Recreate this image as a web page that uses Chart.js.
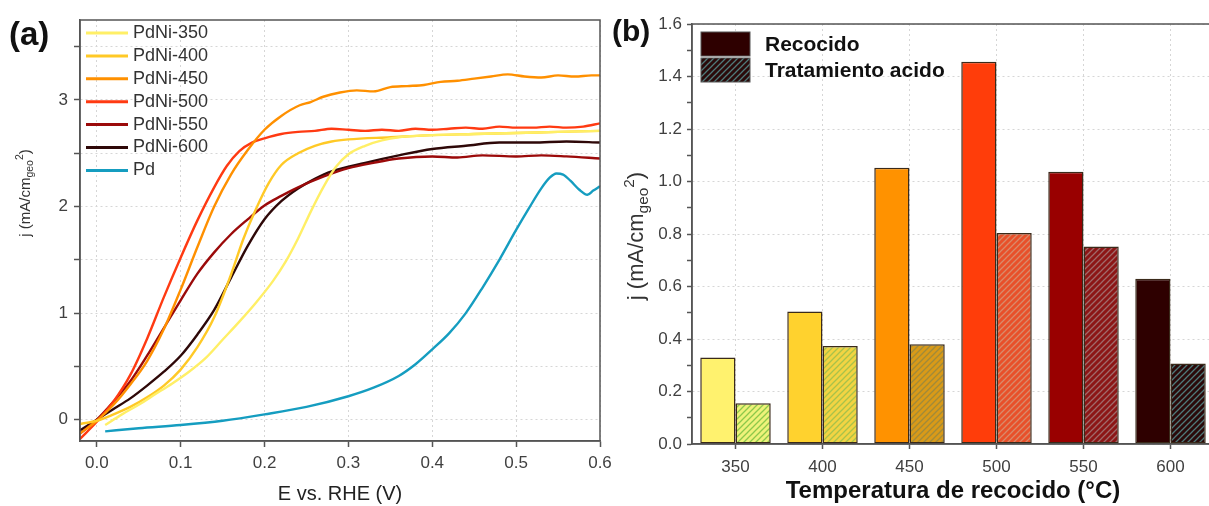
<!DOCTYPE html>
<html>
<head>
<meta charset="utf-8">
<script src="https://cdn.jsdelivr.net/npm/chart.js@4.4.1/dist/chart.umd.min.js"></script>
<style>
  body { margin: 0; width: 1209px; height: 506px; overflow: hidden; position: relative; background: #fff;
         font-family: "Liberation Sans", Arial, sans-serif; }
  .panel { position: absolute; top: 0; }
  .tag { position: absolute; font-weight: bold; color: #111; line-height: 1; }
  .ytitle { position: absolute; white-space: nowrap; color: #333; transform: translate(-50%, -50%) rotate(-90deg); }
  .ytitle sub { font-size: 70%; vertical-align: -0.3em; }
  .ytitle sup { font-size: 70%; vertical-align: 0.6em; }
</style>
</head>
<body>
<div class="panel" style="left:0"><canvas id="chartA" width="620" height="506"></canvas></div>
<div class="panel" style="left:610px"><canvas id="chartB" width="610" height="506"></canvas></div>
<div class="tag" style="left:9px; top:17px; font-size:33px">(a)</div>
<div class="tag" style="left:612px; top:16px; font-size:30px">(b)</div>
<div class="ytitle" style="left:24px; top:193px; font-size:15px">j (mA/cm<sub>geo</sub><sup>2</sup>)</div>
<div class="ytitle" style="left:636px; top:236px; font-size:22px">j (mA/cm<sub>geo</sub><sup>2</sup>)</div>
<script>
// ---- (a) polarisation curves: potential E (V vs RHE) and current density j ----
const pdni350E = [0.01, 0.03, 0.05, 0.07, 0.09, 0.11, 0.13, 0.15, 0.17, 0.19, 0.21, 0.225, 0.24, 0.255, 0.27, 0.285, 0.3, 0.32, 0.34, 0.36, 0.4, 0.45, 0.5, 0.55, 0.6];
const pdni350J = [-0.05, 0.05, 0.14, 0.24, 0.34, 0.45, 0.58, 0.75, 0.92, 1.1, 1.3, 1.48, 1.7, 1.95, 2.18, 2.37, 2.49, 2.57, 2.62, 2.65, 2.67, 2.68, 2.69, 2.7, 2.71];

const pdni400E = [-0.02, 0.0, 0.02, 0.04, 0.06, 0.08, 0.1, 0.12, 0.14, 0.16, 0.175, 0.19, 0.205, 0.22, 0.24, 0.26, 0.28, 0.3, 0.35, 0.4, 0.45, 0.5, 0.55, 0.6];
const pdni400J = [-0.04, -0.01, 0.05, 0.12, 0.21, 0.32, 0.47, 0.68, 0.96, 1.36, 1.7, 1.98, 2.22, 2.39, 2.5, 2.57, 2.61, 2.63, 2.65, 2.67, 2.68, 2.69, 2.7, 2.71];

const pdni450E = [-0.02, 0.0, 0.02, 0.04, 0.06, 0.08, 0.1, 0.12, 0.14, 0.16, 0.18, 0.2, 0.22, 0.242, 0.255, 0.27, 0.29, 0.31, 0.33, 0.35, 0.37, 0.39, 0.41, 0.43, 0.45, 0.47, 0.49, 0.51, 0.53, 0.55, 0.57, 0.59, 0.6];
const pdni450J = [-0.13, -0.01, 0.14, 0.33, 0.55, 0.85, 1.22, 1.62, 2.0, 2.3, 2.53, 2.72, 2.85, 2.95, 2.98, 3.03, 3.07, 3.09, 3.08, 3.12, 3.13, 3.14, 3.17, 3.18, 3.2, 3.22, 3.24, 3.22, 3.21, 3.23, 3.22, 3.23, 3.23];

const pdni500E = [-0.02, 0.0, 0.02, 0.04, 0.06, 0.08, 0.1, 0.12, 0.14, 0.155, 0.17, 0.185, 0.2, 0.22, 0.24, 0.26, 0.28, 0.3, 0.32, 0.34, 0.36, 0.38, 0.4, 0.42, 0.44, 0.46, 0.48, 0.5, 0.52, 0.54, 0.56, 0.58, 0.6];
const pdni500J = [-0.18, -0.02, 0.17, 0.42, 0.76, 1.15, 1.52, 1.87, 2.18, 2.38, 2.52, 2.6, 2.64, 2.68, 2.7, 2.71, 2.73, 2.72, 2.71, 2.72, 2.71, 2.73, 2.72, 2.73, 2.74, 2.73, 2.75, 2.74, 2.74, 2.75, 2.74, 2.75, 2.78];

const pdni550E = [-0.02, 0.0, 0.02, 0.04, 0.06, 0.08, 0.1, 0.12, 0.14, 0.16, 0.18, 0.2, 0.22, 0.24, 0.27, 0.3, 0.33, 0.36, 0.4, 0.43, 0.46, 0.5, 0.53, 0.56, 0.6];
const pdni550J = [-0.13, 0.0, 0.17, 0.36, 0.6, 0.86, 1.12, 1.37, 1.57, 1.74, 1.88, 2.01, 2.1, 2.18, 2.28, 2.36, 2.41, 2.45, 2.47, 2.46, 2.48, 2.47, 2.48, 2.47, 2.45];

const pdni600E = [-0.02, 0.0, 0.02, 0.04, 0.06, 0.08, 0.1, 0.12, 0.14, 0.16, 0.18, 0.2, 0.22, 0.24, 0.26, 0.28, 0.32, 0.36, 0.4, 0.44, 0.48, 0.52, 0.56, 0.6];
const pdni600J = [-0.1, 0.0, 0.1, 0.2, 0.32, 0.45, 0.6, 0.8, 1.03, 1.33, 1.63, 1.88, 2.05, 2.17, 2.26, 2.33, 2.41, 2.48, 2.54, 2.57, 2.6, 2.6, 2.61, 2.6];

const pdE = [0.01, 0.05, 0.1, 0.15, 0.2, 0.25, 0.3, 0.33, 0.36, 0.38, 0.4, 0.42, 0.44, 0.46, 0.48, 0.5, 0.515, 0.53, 0.54, 0.548, 0.556, 0.565, 0.575, 0.585, 0.592, 0.6];
const pdJ = [-0.11, -0.08, -0.05, -0.01, 0.05, 0.12, 0.22, 0.3, 0.41, 0.52, 0.66, 0.81, 1.0, 1.24, 1.5, 1.78, 1.98, 2.17, 2.27, 2.31, 2.3, 2.24, 2.16, 2.11, 2.15, 2.19];

const eTicks = [0, 0.1, 0.2, 0.3, 0.4, 0.5, 0.6];
const jTicks = [0, 0.5, 1, 1.5, 2, 2.5, 3, 3.5];

// ---- (b) current density per annealing temperature ----
const temperatures = ['350', '400', '450', '500', '550', '600'];
const annealed = [0.33, 0.505, 1.052, 1.456, 1.037, 0.63];
const acidTreated = [0.155, 0.373, 0.38, 0.804, 0.752, 0.307];

const annealColors = ['#fff26e', '#ffd22e', '#ff9200', '#ff3d0a', '#990000', '#2e0000'];
const acidBase = ['#eef27a', '#f2d443', '#d99a18', '#e8502a', '#8c1616', '#2a0a0a'];
const acidStripe = ['#8cc84a', '#a8c24a', '#a08a3a', '#d98a6a', '#a06a6a', '#4f7a7a'];

const FONT = '"Liberation Sans", Arial, sans-serif';
Chart.defaults.font.family = FONT;
Chart.defaults.color = '#404040';

const pts = (xs, ys) => xs.map((x, i) => ({ x: x, y: ys[i] }));
const asTicks = vals => vals.map(v => ({ value: v }));

// full frame around the plot area
const frame = {
  id: 'frame',
  afterDatasetsDraw(chart) {
    const { ctx, chartArea: a } = chart;
    ctx.save();
    ctx.strokeStyle = '#555';
    ctx.lineWidth = 1.5;
    ctx.strokeRect(a.left, a.top, a.right - a.left, a.bottom - a.top);
    ctx.restore();
  }
};

// legend sitting inside the top-left corner of the curves plot
const curveLegend = {
  id: 'curveLegend',
  afterDraw(chart) {
    const { ctx, chartArea: a } = chart;
    ctx.save();
    ctx.font = '18px ' + FONT;
    ctx.textBaseline = 'middle';
    chart.data.datasets.forEach((ds, i) => {
      const y = a.top + 13 + i * 22.9;
      ctx.strokeStyle = ds.borderColor;
      ctx.lineWidth = 3;
      ctx.beginPath();
      ctx.moveTo(a.left + 6, y);
      ctx.lineTo(a.left + 48, y);
      ctx.stroke();
      ctx.fillStyle = '#333';
      ctx.fillText(ds.label, a.left + 53, y);
    });
    ctx.restore();
  }
};

const line = (label, color, xs, ys) => ({
  label: label, data: pts(xs, ys), borderColor: color, borderWidth: 2.4,
  pointRadius: 0, cubicInterpolationMode: 'monotone', fill: false
});

new Chart(document.getElementById('chartA'), {
  type: 'line',
  data: {
    datasets: [
      line('PdNi-350', '#ffef66', pdni350E, pdni350J),
      line('PdNi-400', '#ffc926', pdni400E, pdni400J),
      line('PdNi-450', '#ff9000', pdni450E, pdni450J),
      line('PdNi-500', '#ff3a12', pdni500E, pdni500J),
      line('PdNi-550', '#9b0a0a', pdni550E, pdni550J),
      line('PdNi-600', '#2e0808', pdni600E, pdni600J),
      line('Pd', '#159dc0', pdE, pdJ)
    ]
  },
  options: {
    responsive: false,
    animation: false,
    layout: { padding: { top: 20, right: 20, bottom: 0, left: 0 } },
    plugins: { legend: { display: false }, tooltip: { enabled: false } },
    scales: {
      x: {
        type: 'linear', min: -0.02, max: 0.6,
        afterBuildTicks: s => { s.ticks = asTicks(eTicks); },
        afterFit: s => { s.height = 65; },
        ticks: { padding: 6, font: { size: 17 }, callback: v => v.toFixed(1) },
        grid: { color: '#d6d6d6', tickColor: '#555', tickWidth: 1.5, tickLength: 6 },
        border: { color: '#555', width: 1.5, dash: [2, 3] },
        title: { display: true, text: 'E vs. RHE (V)', color: '#222', font: { size: 20 }, padding: { top: 0, bottom: 0 } }
      },
      y: {
        min: -0.2, max: 3.75,
        afterBuildTicks: s => { s.ticks = asTicks(jTicks); },
        afterFit: s => { s.width = 80; },
        ticks: { padding: 6, font: { size: 17 }, callback: v => (Number.isInteger(v) ? String(v) : '') },
        grid: { color: '#d6d6d6', tickColor: '#555', tickWidth: 1.5, tickLength: 6 },
        border: { color: '#555', width: 1.5, dash: [2, 3] }
      }
    }
  },
  plugins: [frame, curveLegend]
});

// ---- bar chart ----
const ctxB = document.getElementById('chartB').getContext('2d');

function hatch(base, stripe) {
  const tile = document.createElement('canvas');
  tile.width = 6;
  tile.height = 6;
  const g = tile.getContext('2d');
  g.fillStyle = base;
  g.fillRect(0, 0, 6, 6);
  g.strokeStyle = stripe;
  g.lineWidth = 1.3;
  g.beginPath();
  g.moveTo(-1, 7); g.lineTo(7, -1);
  g.moveTo(-4, 4); g.lineTo(4, -4);
  g.moveTo(2, 10); g.lineTo(10, 2);
  g.stroke();
  return ctxB.createPattern(tile, 'repeat');
}

const acidFill = acidBase.map((b, i) => hatch(b, acidStripe[i]));

const barLegend = {
  id: 'barLegend',
  afterDraw(chart) {
    const { ctx, chartArea: a } = chart;
    const rows = [
      { label: 'Recocido', fill: annealColors[5] },
      { label: 'Tratamiento acido', fill: acidFill[5] }
    ];
    ctx.save();
    ctx.font = 'bold 21px ' + FONT;
    ctx.textBaseline = 'middle';
    rows.forEach((r, i) => {
      const y = a.top + 8 + i * 26;
      ctx.fillStyle = r.fill;
      ctx.fillRect(a.left + 9, y, 49, 24);
      ctx.strokeStyle = '#555';
      ctx.lineWidth = 1;
      ctx.strokeRect(a.left + 9, y, 49, 24);
      ctx.fillStyle = '#111';
      ctx.fillText(r.label, a.left + 73, y + 13);
    });
    ctx.restore();
  }
};

const barBase = { borderColor: '#3a2a1a', borderWidth: 1.5, borderSkipped: false, categoryPercentage: 0.81, barPercentage: 1.0 };

new Chart(ctxB, {
  type: 'bar',
  data: {
    labels: temperatures,
    datasets: [
      Object.assign({ label: 'Recocido', data: annealed, backgroundColor: annealColors }, barBase),
      Object.assign({ label: 'Tratamiento acido', data: acidTreated, backgroundColor: acidFill }, barBase)
    ]
  },
  options: {
    responsive: false,
    animation: false,
    layout: { padding: { top: 24, right: 6, bottom: 0, left: 0 } },
    plugins: { legend: { display: false }, tooltip: { enabled: false } },
    scales: {
      x: {
        afterFit: s => { s.height = 62; },
        ticks: { padding: 8, font: { size: 17 } },
        grid: { offset: false, color: '#d6d6d6', tickColor: '#555', tickWidth: 1.5, tickLength: 5 },
        border: { color: '#555', width: 1.5, dash: [2, 3] },
        title: { display: true, text: 'Temperatura de recocido (°C)', color: '#111', font: { size: 24, weight: 'bold' }, padding: { top: 0, bottom: 0 } }
      },
      y: {
        min: 0, max: 1.6,
        afterFit: s => { s.width = 82; },
        ticks: { stepSize: 0.1, padding: 5, font: { size: 17 },
                 callback: v => (Math.round(v * 10) % 2 === 0 ? v.toFixed(1) : '') },
        grid: {
          color: c => (c.tick && Math.round(c.tick.value * 10) % 2 === 0 ? '#d6d6d6' : 'rgba(0,0,0,0)'),
          tickColor: '#555', tickWidth: 1.5, tickLength: 5
        },
        border: { color: '#555', width: 1.5, dash: [2, 3] }
      }
    }
  },
  plugins: [frame, barLegend]
});
</script>
</body>
</html>
